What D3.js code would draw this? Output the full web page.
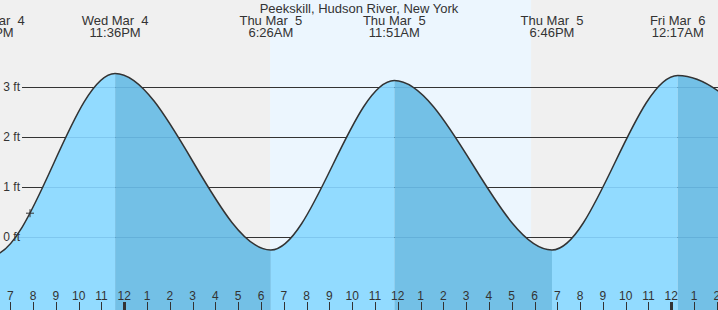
<!DOCTYPE html>
<html>
<head>
<title>Peekskill tide</title>
<meta charset="utf-8">
<script src="https://cdn.jsdelivr.net/npm/d3@7"></script>
<style>
	body { margin: 0; background: #f0f0f0; }
	svg { display: block; font-family: "Liberation Sans", Arial, sans-serif; }
	text { fill: #333; white-space: pre; }
</style>
</head>
<body>
<svg id="chart"></svg>
<script>
// 高低潮 (从图上读取, 首尾两个在图外)
var tideTimes = ["2020-03-04 11:50", "2020-03-04 18:10", "2020-03-04 23:36", "2020-03-05 06:26", "2020-03-05 11:51", "2020-03-05 18:46", "2020-03-06 00:17", "2020-03-06 07:20"];
var tideHeights = [3.20, -0.37, 3.27, -0.26, 3.13, -0.26, 3.23, -0.30];

// 日出日落
var sunTimes = ["2020-03-05 06:24", "2020-03-05 17:51"];

// 当前时刻标记
var nowTime = "2020-03-04 19:52";

// y 轴刻度
var ftTicks = [0, 1, 2, 3];

var title = "Peekskill, Hudson River, New York";

var w = 718;
var h = 310;

var parse = d3.timeParse("%Y-%m-%d %H:%M");
var fmtDay = d3.timeFormat("%a %b %e");
var fmtTime = d3.timeFormat("%-I:%M%p");

var tides = tideTimes.map(function(t, i) {
	return { t: parse(t), v: tideHeights[i] };
});

var x = d3.scaleTime()
	.domain([parse("2020-03-04 18:33"), parse("2020-03-06 02:03")])
	.range([0, w]);

var y = d3.scaleLinear()
	.domain([0, 3])
	.range([237, 87]);

var svg = d3.select("#chart")
	.attr("width", w)
	.attr("height", h);

// 背景 + 白天
svg.append("rect").attr("width", w).attr("height", h).attr("fill", "#f0f0f0");
svg.append("rect")
	.attr("x", x(parse(sunTimes[0])))
	.attr("width", x(parse(sunTimes[1])) - x(parse(sunTimes[0])))
	.attr("y", 0).attr("height", h)
	.attr("fill", "#ecf6fe");

// 网格线
svg.append("g").selectAll("line")
	.data(ftTicks).enter().append("line")
	.attr("x1", 22).attr("x2", w)
	.attr("y1", function(d) { return y(d) + 0.5; })
	.attr("y2", function(d) { return y(d) + 0.5; })
	.attr("stroke", "#333").attr("stroke-width", 1);

var line = d3.line()
	.x(function(d) { return x(d.t); })
	.y(function(d) { return y(d.v); })
	.curve(d3.curveMonotoneX);

var area = d3.area()
	.x(function(d) { return x(d.t); })
	.y0(h)
	.y1(function(d) { return y(d.v); })
	.curve(d3.curveMonotoneX);

svg.append("clipPath").attr("id", "tide-clip")
	.append("path").attr("d", area(tides));

// 涨潮浅色, 落潮深色
var fillG = svg.append("g").attr("clip-path", "url(#tide-clip)");
fillG.selectAll("rect")
	.data(d3.pairs(tides)).enter().append("rect")
	.attr("x", function(d) { return x(d[0].t); })
	.attr("width", function(d) { return x(d[1].t) - x(d[0].t); })
	.attr("y", 0).attr("height", h)
	.attr("fill", function(d) { return d[1].v > d[0].v ? "#92dbff" : "#73c0e6"; });

fillG.selectAll("line")
	.data(ftTicks).enter().append("line")
	.attr("x1", 0).attr("x2", w)
	.attr("y1", function(d) { return y(d) + 0.5; })
	.attr("y2", function(d) { return y(d) + 0.5; })
	.attr("stroke", "rgba(0,70,130,0.13)").attr("stroke-width", 1);

var curvePath = svg.append("path")
	.attr("d", line(tides))
	.attr("fill", "none")
	.attr("stroke", "#333")
	.attr("stroke-width", 1.5);

// y 轴标签
svg.append("g").selectAll("text")
	.data(ftTicks).enter().append("text")
	.attr("x", 20)
	.attr("y", function(d) { return y(d); })
	.attr("dy", "0.35em")
	.attr("text-anchor", "end")
	.attr("font-size", 12)
	.text(function(d) { return d + " ft"; });

// 底部小时刻度
var hours = x.ticks(d3.timeHour.every(1));
var axisG = svg.append("g");
axisG.selectAll("line")
	.data(hours).enter().append("line")
	.attr("x1", function(d) { return Math.round(x(d)) + 0.5; })
	.attr("x2", function(d) { return Math.round(x(d)) + 0.5; })
	.attr("y1", 302).attr("y2", h)
	.attr("stroke", "#333")
	.attr("stroke-width", function(d) { return d.getHours() === 0 ? 3 : 1; });
axisG.selectAll("text")
	.data(hours).enter().append("text")
	.attr("x", function(d) { return x(d); })
	.attr("y", 299.5)
	.attr("text-anchor", "middle")
	.attr("font-size", 12)
	.text(function(d) { return d3.timeFormat("%-I")(d); });

// 标题与极值标签
svg.append("text")
	.attr("x", w / 2).attr("y", 12.5)
	.attr("text-anchor", "middle")
	.attr("font-size", 13)
	.text(title);

var lab = svg.append("g").selectAll("g")
	.data(tides.filter(function(d) { return x(d.t) > -60 && x(d.t) < w + 60; }))
	.enter().append("g")
	.attr("transform", function(d) { return "translate(" + x(d.t) + ",0)"; });
lab.append("text").attr("y", 24.5).attr("text-anchor", "middle").attr("font-size", 13)
	.text(function(d) { return fmtDay(d.t); });
lab.append("text").attr("y", 37).attr("text-anchor", "middle").attr("font-size", 13)
	.text(function(d) { return fmtTime(d.t); });

// 当前时刻 "+" 标记, 放在曲线上
var nx = x(parse(nowTime));
var node = curvePath.node();
var lo = 0, hi = node.getTotalLength();
for (var i = 0; i < 40; i++) {
	var mid = (lo + hi) / 2;
	if (node.getPointAtLength(mid).x < nx) lo = mid; else hi = mid;
}
var ny = node.getPointAtLength(lo).y;
svg.append("path")
	.attr("d", "M" + (nx - 4) + "," + ny + "H" + (nx + 4) + "M" + nx + "," + (ny - 4) + "V" + (ny + 4))
	.attr("stroke", "#333").attr("stroke-width", 1);
</script>
</body>
</html>
